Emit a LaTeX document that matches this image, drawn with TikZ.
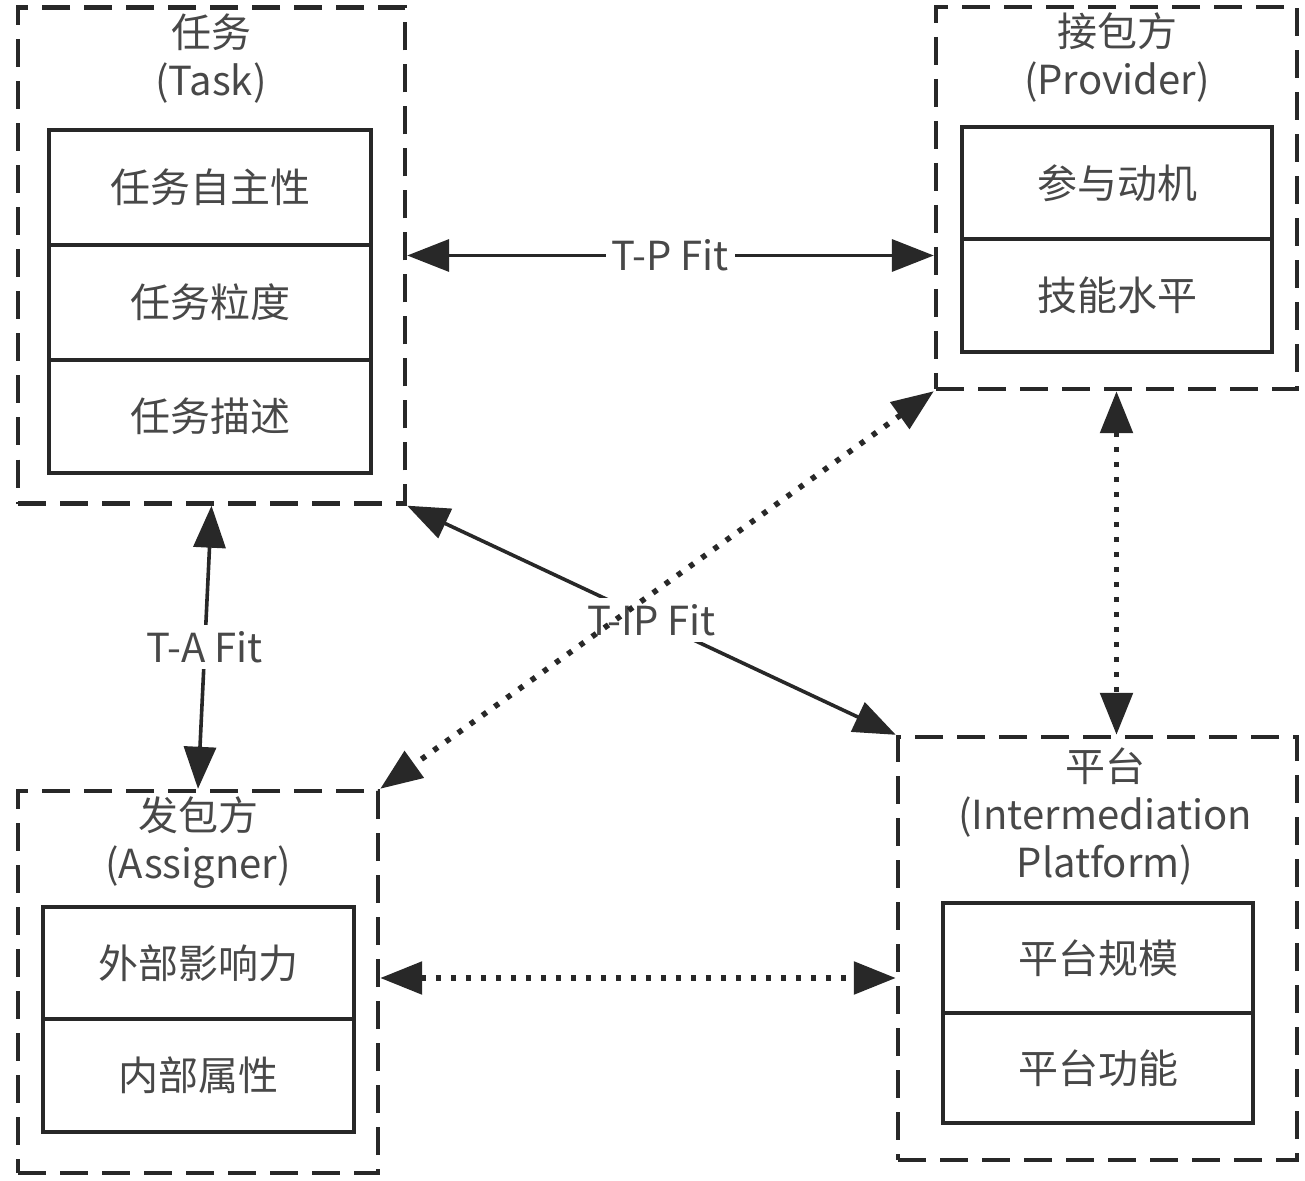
\documentclass[tikz,border=0pt]{standalone}
\usepackage{fontspec}
\setmainfont{Noto Sans CJK SC}
\usetikzlibrary{arrows.meta}
\definecolor{txt}{RGB}{72,72,72}
\definecolor{ln}{RGB}{40,40,40}
\tikzset{
  outerbox/.style={draw=ln, line width=2.2pt, dash pattern=on 14pt off 7pt, inner sep=0pt},
  rowbox/.style={draw=ln, line width=2.2pt, inner sep=0pt, text=txt, font=\fontsize{20pt}{24pt}\selectfont},
  title/.style={text=txt, align=center, inner sep=0pt, font=\fontsize{20pt}{24pt}\selectfont},
  lbl/.style={text=txt, fill=white, inner sep=3pt, font=\fontsize{20pt}{24pt}\selectfont},
  biarrow/.style={draw=ln, line width=1.8pt, {Triangle[length=21pt,width=16pt]}-{Triangle[length=21pt,width=16pt]}},
  dotarrow/.style={biarrow, line width=2.8pt, dash pattern=on 2.6pt off 4.9pt}
}
\begin{document}
\begin{tikzpicture}[x=0.5pt,y=-0.5pt]
\useasboundingbox (0,0) rectangle (1305,1181);
% outer dashed boxes
\node[outerbox, minimum width=193.5pt, minimum height=248pt] (task) at (211.5,255.5) {};
\node[outerbox, minimum width=180.5pt, minimum height=191pt] (prov) at (1116.5,198) {};
\node[outerbox, minimum width=180pt, minimum height=191pt] (assn) at (198,982) {};
\node[outerbox, minimum width=199.5pt, minimum height=211.5pt] (plat) at (1097.5,948.5) {};
% titles
\node[title] (taskt) at (211,59) {任务\\(Task)};
\node[title] (provt) at (1117,58) {接包方\\(Provider)};
\node[title] (assnt) at (198,843) {发包方\\(Assigner)};
\node[title] (platt) at (1105,817) {平台\\(Intermediation\\Platform)};
% rows
\node[rowbox, minimum width=161pt, minimum height=57.5pt] (t1) at (210,187.5) {任务自主性};
\node[rowbox, minimum width=161pt, minimum height=57.5pt] (t2) at (210,302.5) {任务粒度};
\node[rowbox, minimum width=161pt, minimum height=56.5pt] (t3) at (210,416.5) {任务描述};
\node[rowbox, minimum width=155pt, minimum height=56pt] (p1) at (1117,183) {参与动机};
\node[rowbox, minimum width=155pt, minimum height=56.5pt] (p2) at (1117,295.5) {技能水平};
\node[rowbox, minimum width=155.5pt, minimum height=56pt] (a1) at (198.5,963) {外部影响力};
\node[rowbox, minimum width=155.5pt, minimum height=56.5pt] (a2) at (198.5,1075.5) {内部属性};
\node[rowbox, minimum width=155pt, minimum height=55pt] (m1) at (1098,958) {平台规模};
\node[rowbox, minimum width=155pt, minimum height=55pt] (m2) at (1098,1068) {平台功能};
% connectors
\coordinate (hy) at (0,978);
\draw[biarrow] (task.east) -- node[lbl] {T-P Fit} (task.east -| prov.west);
\draw[biarrow] (task.south) -- node[lbl] {T-A Fit} (assn.north);
\draw[biarrow] (task.south east) -- node[lbl] {T-IP Fit} (plat.north west);
\draw[dotarrow] (prov.south west) -- (assn.north east);
\draw[dotarrow] (prov.south) -- (prov.south |- plat.north);
\draw[dotarrow] (assn.east |- hy) -- (plat.west |- hy);
\end{tikzpicture}
\end{document}
